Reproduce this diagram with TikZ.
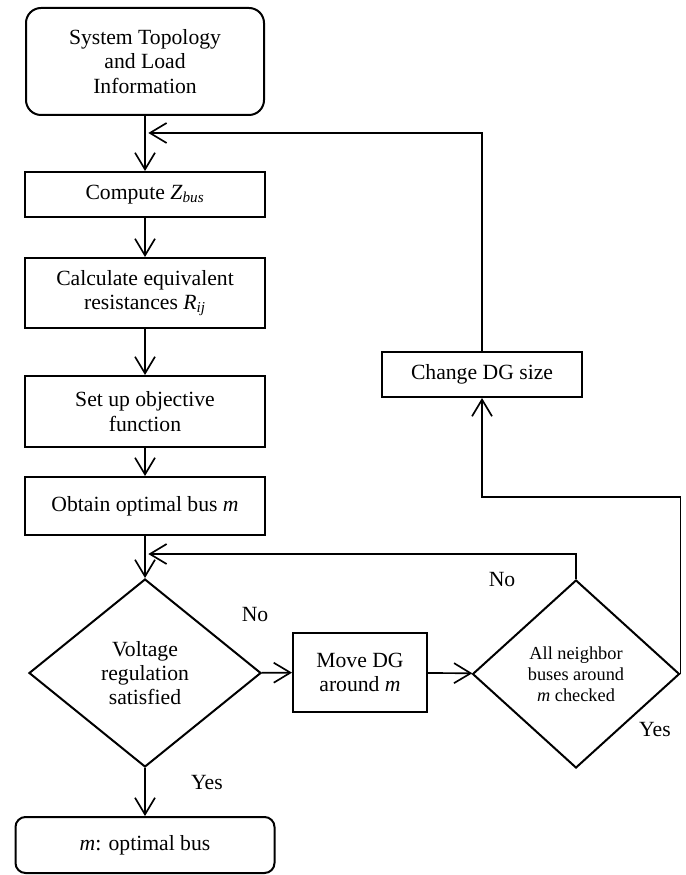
\documentclass[tikz,border=0pt]{standalone}
\usepackage{fontspec}
\setmainfont{Liberation Serif}
\usetikzlibrary{arrows.meta,shapes.geometric}
\tikzstyle{block}=[draw,line width=1.2pt,align=center,inner sep=2pt,font=\fontsize{13}{14.6}\selectfont]
\tikzstyle{terminal}=[block,rounded corners=9pt]
\tikzstyle{decision}=[block,diamond,inner sep=0pt]
\tikzstyle{link}=[draw,line width=1pt]
\tikzstyle{flow}=[link,-{Straight Barb[length=10pt,width=12pt,line width=1pt]}]
\tikzstyle{answer}=[font=\fontsize{13}{14.6}\selectfont]

\begin{document}
\begin{tikzpicture}[x=0.6pt,y=-0.6pt]
    \useasboundingbox (0,0) rectangle (685,875);

    % Start and end
    \node[terminal,minimum width=142.8pt,minimum height=64.2pt] (start) at (145,61.5) {System Topology\\and Load\\Information};
    \node[terminal,rounded corners=6pt,minimum width=155.4pt,minimum height=33.6pt] (endbox) at (145,845) {\textit{m}: optimal bus};

    % Process boxes
    \foreach \pos/\name/\h/\txt in {{(145,194.5)/zbus/27pt/{Compute \textit{Z}\textsubscript{\textit{bus}}}},
                                    {(145,293)/req/42pt/{Calculate equivalent\\resistances \textit{R}\textsubscript{\textit{ij}}}},
                                    {(145,411.5)/obj/42.6pt/{Set up objective\\function}},
                                    {(145,506)/obtain/34.8pt/{Obtain optimal bus \textit{m}}}}
        \node[block,minimum width=144pt,minimum height=\h] (\name) at \pos {\txt};
    \node[block,minimum width=80.4pt,minimum height=47.4pt] (move) at (360,672.5) {Move DG\\around \textit{m}};
    \node[block,minimum width=120pt,minimum height=27pt] (change) at (482,374.5) {Change DG size};

    % Decisions
    \node[decision,minimum width=139.2pt,minimum height=112.8pt] (volt) at (145,673) {Voltage\\regulation\\satisfied};
    \node[decision,minimum width=124.2pt,minimum height=112.8pt,font=\fontsize{11}{12.6}\selectfont] (check) at (576,674) {All neighbor\\buses around\\\textit{m} checked};

    % Answers
    \node[answer] (no1) at (255,615) {No};
    \node[answer] (yes1) at (207,783) {Yes};
    \node[answer] (no2) at (502,580) {No};
    \node[answer] (yes2) at (655,730) {Yes};

    % Merge points
    \coordinate (top merge) at (145,133);
    \coordinate (low merge) at (145,554);
    \coordinate (yes corner) at (0,497);

    % Main flow
    \foreach \source/\dest in {start/zbus, zbus/req, req/obj, obj/obtain,
                               obtain/volt, volt/endbox, volt/move, move/check}
        \path[flow] (\source) -- (\dest);

    % Loops back
    \path[flow,shorten >=2pt] (check.north) |- (low merge);
    \path[flow] (check.east) -- (check.east |- yes corner) -| (change.south);
    \path[flow,shorten >=2pt] (change.north) |- (top merge);
\end{tikzpicture}
\end{document}
